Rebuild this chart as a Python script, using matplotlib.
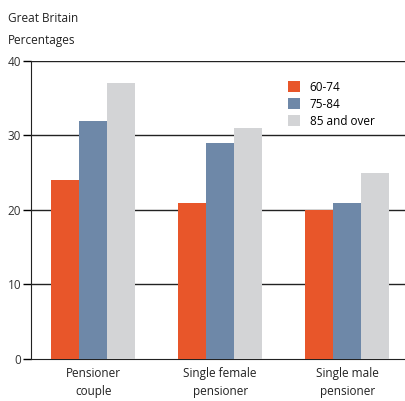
import matplotlib.pyplot as plt
import numpy as np

plt.rcParams['font.family'] = ['Open Sans', 'DejaVu Sans']

categories = ['Pensioner\ncouple', 'Single female\npensioner', 'Single male\npensioner']
series_names = ['60-74', '75-84', '85 and over']
values_60_74 = [24, 21, 20]
values_75_84 = [32, 29, 21]
values_85_over = [37, 31, 25]
colors = ['#E8562A', '#6E88A8', '#D3D4D6']
yticks = [0, 10, 20, 30, 40]

fig = plt.figure(figsize=(4.05, 4.01), dpi=100)
ax = fig.add_axes([0.0765, 0.1047, 0.9235, 0.7433])

x = np.arange(len(categories))
width = 0.22
series = [values_60_74, values_75_84, values_85_over]
for i, vals in enumerate(series):
    ax.bar(x + (i - 1) * width, vals, width, color=colors[i], label=series_names[i], zorder=3)

ax.set_xlim(-0.49, 2.455)
ax.set_ylim(0, 40)
ax.set_yticks(yticks)
ax.set_yticklabels([str(t) for t in yticks], fontsize=8.5, color='#333333')
ax.set_xticks(x)
ax.set_xticklabels(categories, fontsize=8.5, color='#222222', linespacing=1.5)
ax.tick_params(axis='x', length=0, pad=6)
ax.tick_params(axis='y', length=6, width=1, pad=1, direction='out')
for t in yticks[1:]:
    ax.axhline(t, color='#222222', linewidth=1, zorder=1)
ax.spines['top'].set_visible(False)
ax.spines['right'].set_visible(False)
ax.spines['left'].set_color('#222222')
ax.spines['bottom'].set_color('#222222')

ax.legend(loc='upper left', bbox_to_anchor=(0.66, 0.97), frameon=False, fontsize=8.5,
          handlelength=1.0, handleheight=1.0, handletextpad=0.8, labelspacing=0.35)

fig.text(0.02, 0.955, 'Great Britain', fontsize=8.5, color='#222222', va='center')
fig.text(0.02, 0.9, 'Percentages', fontsize=8.5, color='#222222', va='center')

plt.savefig('out.png', dpi=100)
